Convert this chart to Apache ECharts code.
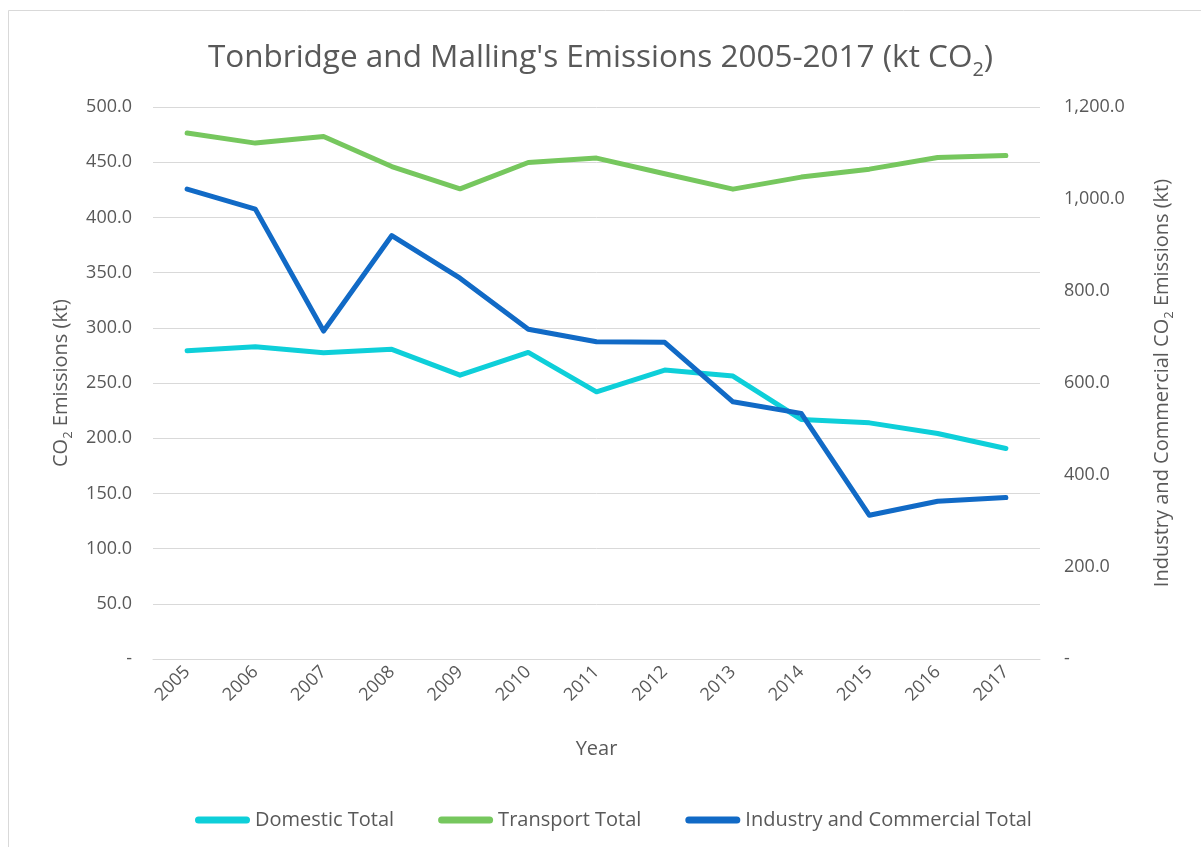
<!DOCTYPE html>
<html>
<head>
<meta charset="utf-8">
<script src="https://cdn.jsdelivr.net/npm/echarts@6/dist/echarts.min.js"></script>
<style>
html,body{margin:0;padding:0;background:#fff;}
#chart{width:1201px;height:847px;}
</style>
</head>
<body>
<div id="chart"></div>
<script>
var years = ['2005','2006','2007','2008','2009','2010','2011','2012','2013','2014','2015','2016','2017'];
var domesticTotal = [279.2, 282.8, 277.4, 280.5, 257.1, 277.7, 242.0, 261.7, 256.3, 217.0, 213.9, 204.3, 190.7];
var transportTotal = [476.4, 467.3, 473.3, 446.1, 425.9, 449.7, 453.7, 439.5, 425.6, 436.5, 443.7, 454.3, 456.1];
var industryCommercialTotal = [1021.6, 978.0, 713.0, 920.5, 827.8, 716.7, 689.8, 688.4, 559.1, 533.9, 312.4, 342.9, 351.0];
var seriesNames = ['Domestic Total', 'Transport Total', 'Industry and Commercial Total'];

var FONT = '"Open Sans", "Liberation Sans", sans-serif';
var TXT = '#595959';
var GRID = '#d9d9d9';

function fmt(v) {
  if (v === 0) return '-';
  var s = v.toFixed(1);
  var parts = s.split('.');
  parts[0] = parts[0].replace(/\B(?=(\d{3})+(?!\d))/g, ',');
  return parts.join('.');
}

var chart = echarts.init(document.getElementById('chart'), null, {renderer: 'canvas'});
var legendIcon = 'path://M3.5,0 L51.5,0 A3.5,3.5 0 0 1 51.5,7 L3.5,7 A3.5,3.5 0 0 1 3.5,0 Z';

chart.setOption({
  backgroundColor: '#ffffff',
  animation: false,
  graphic: [{
    type: 'rect',
    shape: {x: 8.5, y: 10.5, width: 1300, height: 900},
    style: {fill: 'none', stroke: GRID, lineWidth: 1},
    silent: true, z: -10
  }],
  title: {
    text: '{a|Tonbridge and Malling\'s Emissions 2005-2017 (kt CO}{s|2}{a|)}',
    left: 'center',
    top: 29,
    textStyle: {
      fontWeight: 'normal',
      rich: {
        a: {fontFamily: FONT, fontSize: 31.5, fontWeight: 'normal', color: TXT, lineHeight: 40, verticalAlign: 'bottom'},
        s: {fontFamily: FONT, fontSize: 20, fontWeight: 'normal', color: TXT, lineHeight: 40, verticalAlign: 'bottom', padding: [0, 0, -6, 0]}
      }
    }
  },
  legend: {
    bottom: 12,
    left: 190,
    itemWidth: 55,
    itemHeight: 7,
    itemGap: 44,
    icon: legendIcon,
    textStyle: {fontFamily: FONT, fontSize: 20, color: TXT},
    data: seriesNames
  },
  grid: {left: 153, right: 161, top: 107, bottom: 188, containLabel: false},
  xAxis: {
    type: 'category',
    data: years,
    boundaryGap: true,
    name: 'Year',
    nameLocation: 'middle',
    nameGap: 80,
    nameTextStyle: {fontFamily: FONT, fontSize: 20, color: TXT},
    axisLine: {show: true, lineStyle: {color: GRID, width: 1}},
    axisTick: {show: false},
    axisLabel: {rotate: 45, fontFamily: FONT, fontSize: 18, color: TXT, margin: 10}
  },
  yAxis: [{
    type: 'value',
    min: 0, max: 500, interval: 50,
    name: '{a|CO}{s|2}{a| Emissions (kt)}',
    nameLocation: 'middle',
    nameGap: 82,
    nameTextStyle: {
      rich: {
        a: {fontFamily: FONT, fontSize: 20, color: TXT, lineHeight: 26, verticalAlign: 'bottom'},
        s: {fontFamily: FONT, fontSize: 13, color: TXT, lineHeight: 26, verticalAlign: 'bottom', padding: [0, 0, -4, 0]}
      }
    },
    axisLine: {show: false},
    axisTick: {show: false},
    splitLine: {lineStyle: {color: GRID, width: 1}},
    axisLabel: {fontFamily: FONT, fontSize: 18, color: TXT, margin: 21, formatter: fmt}
  }, {
    type: 'value',
    min: 0, max: 1200, interval: 200,
    position: 'right',
    name: '{a|Industry and Commercial CO}{s|2}{a| Emissions (kt)}',
    nameLocation: 'middle',
    nameGap: 106,
    nameRotate: 90,
    nameTextStyle: {
      rich: {
        a: {fontFamily: FONT, fontSize: 20, color: TXT, lineHeight: 26, verticalAlign: 'bottom'},
        s: {fontFamily: FONT, fontSize: 13, color: TXT, lineHeight: 26, verticalAlign: 'bottom', padding: [0, 0, -4, 0]}
      }
    },
    axisLine: {show: false},
    axisTick: {show: false},
    splitLine: {show: false},
    axisLabel: {fontFamily: FONT, fontSize: 18, color: TXT, margin: 24, formatter: fmt}
  }],
  series: [{
    name: seriesNames[0],
    type: 'line',
    data: domesticTotal,
    yAxisIndex: 0,
    symbol: 'none',
    color: '#0ecfd9',
    lineStyle: {width: 5, color: '#0ecfd9', cap: 'round', join: 'round'}
  }, {
    name: seriesNames[1],
    type: 'line',
    data: transportTotal,
    yAxisIndex: 0,
    symbol: 'none',
    color: '#76c75e',
    lineStyle: {width: 5, color: '#76c75e', cap: 'round', join: 'round'}
  }, {
    name: seriesNames[2],
    type: 'line',
    data: industryCommercialTotal,
    yAxisIndex: 1,
    symbol: 'none',
    color: '#116ac6',
    lineStyle: {width: 5, color: '#116ac6', cap: 'round', join: 'round'}
  }]
});
</script>
</body>
</html>
